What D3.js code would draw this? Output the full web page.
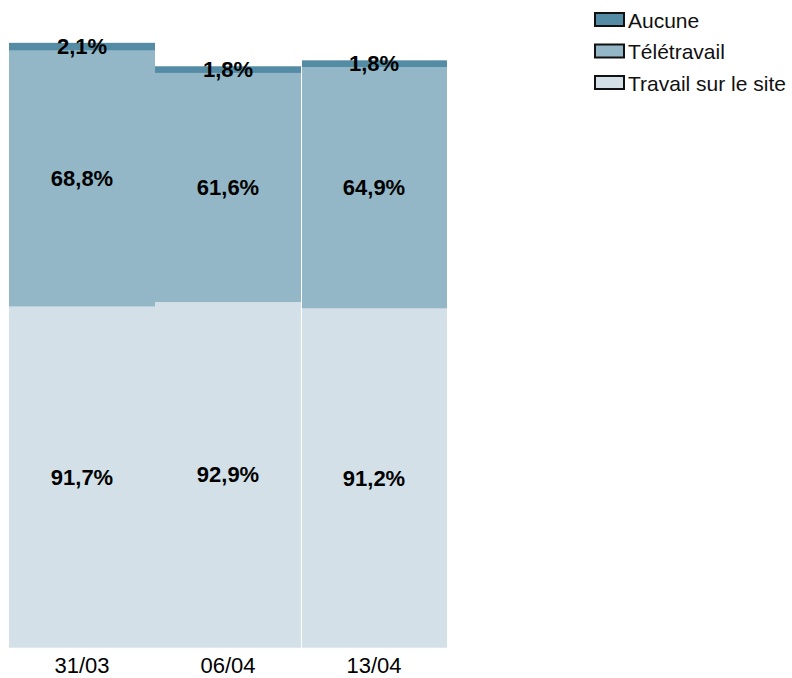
<!DOCTYPE html>
<html>
<head>
<meta charset="utf-8">
<script src="https://cdn.jsdelivr.net/npm/d3@7"></script>
<style>
html,body{margin:0;padding:0;background:#fff;}
svg{display:block;font-family:"Liberation Sans",Arial,sans-serif;}
</style>
</head>
<body>
<svg id="chart" width="792" height="678"></svg>
<script>
const categories = ["31/03", "06/04", "13/04"];
const seriesNames = ["Travail sur le site", "Télétravail", "Aucune"];
const siteValues = [91.7, 92.9, 91.2];
const teleValues = [68.8, 61.6, 64.9];
const aucuneValues = [2.1, 1.8, 1.8];
const legendOrder = ["Aucune", "Télétravail", "Travail sur le site"];
const colors = {"Aucune": "#548ca5", "Télétravail": "#93b7c7", "Travail sur le site": "#d3e0e8"};

const rows = categories.map((c, i) => ({
  cat: c,
  "Travail sur le site": siteValues[i],
  "Télétravail": teleValues[i],
  "Aucune": aucuneValues[i]
}));

const svg = d3.select("#chart");
const x = d3.scaleBand().domain(categories).range([9, 447]).padding(0);
const y = d3.scaleLinear().domain([0, 170]).range([647.7, 647.7 - 3.72 * 170]);

const stack = d3.stack().keys(seriesNames);
const series = stack(rows);

const fmt = v => d3.format(".1f")(v).replace(".", ",") + "%";

series.forEach(s => {
  const g = svg.append("g");
  g.selectAll("rect").data(s).join("rect")
    .attr("x", d => x(d.data.cat) + (categories.indexOf(d.data.cat) === 2 ? 1 : 0))
    .attr("width", d => x.bandwidth() - (categories.indexOf(d.data.cat) === 2 ? 1 : 0))
    .attr("y", d => y(d[1]))
    .attr("height", d => y(d[0]) - y(d[1]))
    .attr("fill", colors[s.key]);
});

series.forEach(s => {
  svg.append("g").selectAll("text").data(s).join("text")
    .attr("x", d => x(d.data.cat) + x.bandwidth() / 2)
    .attr("y", d => (y(d[0]) + y(d[1])) / 2)
    .attr("text-anchor", "middle")
    .attr("dominant-baseline", "central")
    .attr("font-size", 22)
    .attr("font-weight", "bold")
    .attr("fill", "#000")
    .text(d => fmt(d[1] - d[0]));
});

// x axis labels
const xAxis = d3.axisBottom(x).tickSize(0).tickPadding(10);
const ax = svg.append("g").attr("transform", "translate(0,647.7)").call(xAxis);
ax.select(".domain").remove();
ax.selectAll("text").attr("font-size", 22).attr("fill", "#000")
  .attr("font-family", "Liberation Sans, Arial, sans-serif");

// legend
const leg = svg.append("g").attr("transform", "translate(595,13)");
legendOrder.forEach((k, i) => {
  const g = leg.append("g").attr("transform", `translate(0,${i * 31.5})`);
  g.append("rect").attr("width", 29).attr("height", 13)
    .attr("fill", colors[k]).attr("stroke", "#111").attr("stroke-width", 2);
  g.append("text").attr("x", 33).attr("y", 7).attr("dominant-baseline", "central")
    .attr("font-size", 21).attr("fill", "#111").text(k);
});
</script>
</body>
</html>
